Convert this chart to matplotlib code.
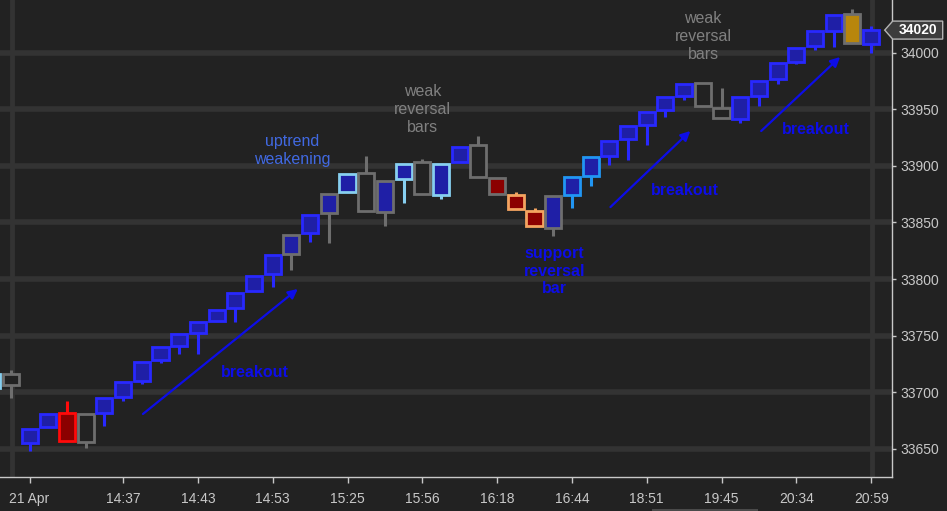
import matplotlib
matplotlib.use("Agg")
import matplotlib.pyplot as plt
import matplotlib.transforms as mtransforms
from matplotlib.patches import Polygon, Rectangle

# chart data (prices)
bar_idx = list(range(-2, 46))
box_top = [33716, 33716, 33667, 33681, 33682, 33681, 33695, 33709, 33727, 33740,
           33751, 33762, 33773, 33788, 33803, 33821, 33839, 33857, 33875, 33893,
           33894, 33887, 33902, 33903, 33902, 33917, 33918, 33889, 33874, 33860,
           33873, 33890, 33908, 33922, 33935, 33948, 33961, 33972, 33973, 33951,
           33961, 33975, 33991, 34004, 34019, 34033, 34034, 34020]
box_bot = [33704, 33706, 33655, 33669, 33657, 33656, 33682, 33696, 33710, 33728,
           33741, 33752, 33763, 33774, 33789, 33804, 33822, 33841, 33858, 33877,
           33860, 33859, 33888, 33875, 33874, 33903, 33890, 33875, 33862, 33847,
           33845, 33874, 33891, 33909, 33924, 33936, 33949, 33962, 33953, 33942,
           33941, 33962, 33977, 33992, 34006, 34019, 34009, 34008]
wick_hi = [33716, 33720, 33667, 33681, 33692, 33681, 33695, 33709, 33727, 33740,
           33751, 33762, 33773, 33788, 33803, 33821, 33839, 33857, 33875, 33893,
           33909, 33887, 33902, 33906, 33902, 33917, 33926, 33889, 33877, 33863,
           33873, 33890, 33908, 33922, 33935, 33948, 33961, 33972, 33973, 33969,
           33961, 33975, 33991, 34004, 34019, 34033, 34039, 34024]
wick_lo = [33704, 33695, 33648, 33669, 33657, 33651, 33670, 33692, 33707, 33726,
           33734, 33734, 33763, 33762, 33789, 33793, 33808, 33833, 33832, 33877,
           33860, 33847, 33867, 33875, 33871, 33903, 33890, 33875, 33862, 33847,
           33838, 33863, 33882, 33901, 33905, 33918, 33943, 33958, 33953, 33942,
           33938, 33953, 33972, 33990, 34002, 34005, 34009, 34000]
# bar styles: edge kind / fill kind
edge_kind = ["sky", "gray", "blue", "blue", "red", "gray", "blue", "blue", "blue", "blue",
             "blue", "blue", "blue", "blue", "blue", "blue", "gray", "blue", "gray", "sky",
             "gray", "gray", "sky", "gray", "sky", "blue", "gray", "gray", "orange", "orange",
             "gray", "dodger", "dodger", "blue", "blue", "blue", "blue", "blue", "gray", "gray",
             "blue", "blue", "blue", "blue", "blue", "blue", "gray", "blue"]
fill_kind = ["up", "none", "up", "up", "down", "none", "up", "up", "up", "up",
             "up", "up", "up", "up", "up", "up", "up", "up", "up", "up",
             "none", "up", "up", "none", "up", "up", "none", "down", "down", "down",
             "up", "up", "up", "up", "up", "up", "up", "up", "none", "none",
             "up", "up", "up", "up", "up", "up", "gold", "up"]

tick_bars = [0, 5, 9, 13, 17, 21, 25, 29, 33, 37, 41, 45]
tick_labels = ["21 Apr", "14:37", "14:43", "14:53", "15:25", "15:56", "16:18",
               "16:44", "18:51", "19:45", "20:34", "20:59"]
price_ticks = [33650, 33700, 33750, 33800, 33850, 33900, 33950, 34000]
last_price = 34020

BG = "#222222"
GRID = "#333333"
edge_col = {"blue": "#2828ff", "gray": "#6e6e6e", "sky": "#87cff0",
            "dodger": "#2196f3", "red": "#ff0a0a", "orange": "#f4a460"}
fill_col = {"up": "#1f1fa6", "down": "#8b0000", "gold": "#b8860b", "none": BG}

fig = plt.figure(figsize=(9.47, 5.11), dpi=100, facecolor=BG)
ax = fig.add_axes([0, 34 / 511, 891.7 / 947, 477 / 511])
ax.set_facecolor(BG)
ax.set_xlim(-1.583, 46.10)
ax.set_ylim(33625, 34046.6)

# grid
for p in price_ticks:
    ax.axhline(p, color=GRID, lw=4, zorder=0)
for gx in [-0.93, 45.05]:
    ax.axvline(gx, ymin=0.006, color=GRID, lw=3.5, zorder=0)

# candles
for i, t, b, h, l, ek, fk in zip(bar_idx, box_top, box_bot, wick_hi, wick_lo, edge_kind, fill_kind):
    ec = edge_col[ek]
    if h > t:
        ax.vlines(i, t, h, color=ec, lw=2.2, zorder=2)
    if l < b:
        ax.vlines(i, l, b, color=ec, lw=2.2, zorder=2)
    ax.bar(i, t - b, bottom=b, width=0.86, color=fill_col[fk], edgecolor=ec,
           linewidth=2.0, zorder=3)

# annotations
note_blue = "#0d0de8"
fnt = ["Liberation Sans", "DejaVu Sans"]
arrows = [((6.06, 33680.7), (14.34, 33791.2)),
          ((31.06, 33863.6), (35.33, 33930.8)),
          ((39.12, 33930.8), (43.34, 33996.2))]
for start, end in arrows:
    ax.annotate("", xy=end, xytext=start,
                arrowprops=dict(arrowstyle="-|>", color=note_blue, lw=1.6,
                                mutation_scale=14, shrinkA=0, shrinkB=0), zorder=5)

for x, y, s in [(12.04, 33717.8, "breakout"), (35.06, 33877.8, "breakout"),
                (42.06, 33931.7, "breakout"), (28.06, 33807, "support\nreversal\nbar")]:
    ax.text(x, y, s, color=note_blue, fontsize=11.5, fontweight="bold", family=fnt,
            ha="center", va="center", linespacing=1.2, zorder=6)
ax.text(14.02, 33914, "uptrend\nweakening", color="#4169e1", fontsize=11.5, family=fnt,
        ha="center", va="center", linespacing=1.25, zorder=6)
for x, y in [(21.01, 33949.4), (36.02, 34013.9)]:
    ax.text(x, y, "weak\nreversal\nbars", color="#808080", fontsize=11.5, family=fnt,
            ha="center", va="center", linespacing=1.25, zorder=6)

# axes styling
for side in ["top", "left"]:
    ax.spines[side].set_visible(False)
for side in ["right", "bottom"]:
    ax.spines[side].set_color("#c8c8c8")
    ax.spines[side].set_linewidth(1.0)
ax.yaxis.tick_right()
ax.set_yticks(price_ticks)
ax.set_yticklabels([str(p) for p in price_ticks])
ax.set_xticks(tick_bars)
ax.set_xticklabels(tick_labels)
ax.tick_params(axis="x", colors="#c8c8c8", length=4, width=1, pad=7, labelsize=10)
ax.tick_params(axis="y", colors="#c8c8c8", length=3, width=1, pad=3, labelsize=10)
for lab in ax.get_xticklabels() + ax.get_yticklabels():
    lab.set_family(["Liberation Sans Narrow", "Liberation Sans", "DejaVu Sans"])
for lab in ax.get_yticklabels():
    lab.set_family(fnt)

# partially visible top label
bt = mtransforms.blended_transform_factory(ax.transAxes, ax.transData)
ax.text(1.0, 34050, " 34050", transform=bt, color="#c8c8c8", fontsize=10, family=fnt,
        ha="left", va="center", clip_on=False)

# current price tag
x0, y0 = bt.transform((1.0, last_price))
tag = [(x0 - 7, y0), (x0 + 1, y0 + 9), (x0 + 51, y0 + 9), (x0 + 51, y0 - 9), (x0 + 1, y0 - 9)]
fig.patches.append(Polygon(tag, closed=True, transform=mtransforms.IdentityTransform(),
                           facecolor="#3c3c3c", edgecolor="#b4b4b4", lw=1.0, zorder=10))
fig.text((x0 + 26) / 947, y0 / 511, str(last_price), color="white", fontsize=10,
         fontweight="bold", family=fnt, ha="center", va="center", zorder=11)

# scrollbar stub at the bottom edge
fig.patches.append(Rectangle((652 / 947, 0), 106 / 947, 2.5 / 511, transform=fig.transFigure,
                             facecolor="#4a4a4a", edgecolor="none"))

fig.savefig("out.png", dpi=100, facecolor=BG)
